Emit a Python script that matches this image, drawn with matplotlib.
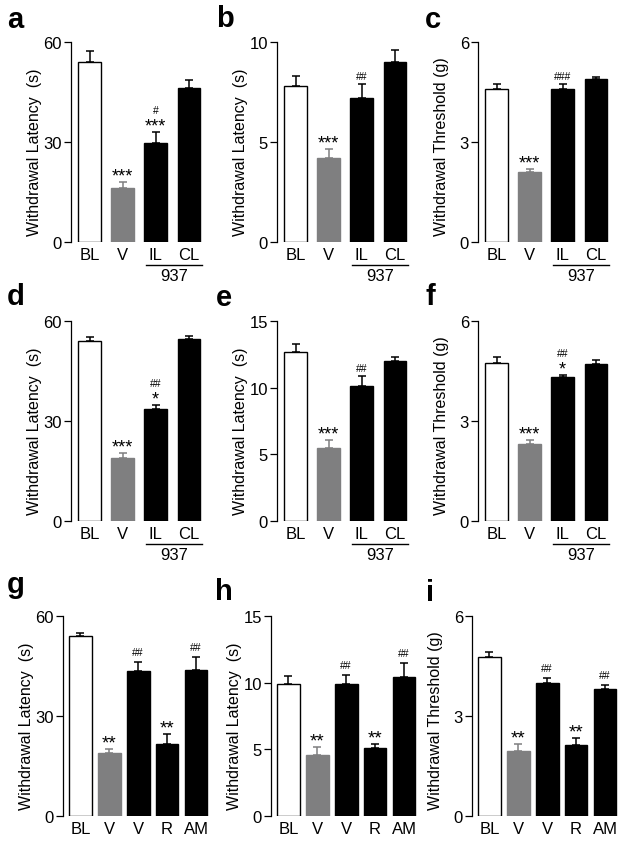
import matplotlib.pyplot as plt
import matplotlib.transforms as mtransforms

plt.rcParams['font.family'] = ['Liberation Sans', 'DejaVu Sans']

# categories
cats_937 = ['BL', 'V', 'IL', 'CL']
cats_ant = ['BL', 'V', 'V', 'R', 'AM']

# y ticks
ticks_60 = [0, 30, 60]
ticks_10 = [0, 5, 10]
ticks_15 = [0, 5, 10, 15]
ticks_6 = [0, 3, 6]

# values (mean, upper SEM)
a_mean = [54.0, 16.2, 29.7, 46.2]
a_err = [3.3, 1.8, 3.3, 2.4]
b_mean = [7.8, 4.2, 7.2, 9.0]
b_err = [0.5, 0.45, 0.7, 0.6]
c_mean = [4.58, 2.1, 4.6, 4.9]
c_err = [0.17, 0.09, 0.13, 0.06]
d_mean = [54.1, 19.0, 33.6, 54.5]
d_err = [1.0, 1.4, 1.3, 0.9]
e_mean = [12.7, 5.5, 10.1, 12.0]
e_err = [0.55, 0.6, 0.8, 0.27]
f_mean = [4.75, 2.3, 4.32, 4.71]
f_err = [0.16, 0.12, 0.07, 0.11]
g_mean = [54.0, 18.8, 43.6, 21.5, 43.8]
g_err = [1.0, 1.4, 2.7, 3.2, 3.8]
h_mean = [9.9, 4.55, 9.9, 5.1, 10.4]
h_err = [0.6, 0.6, 0.7, 0.3, 1.1]
i_mean = [4.76, 1.95, 3.99, 2.12, 3.82]
i_err = [0.16, 0.22, 0.15, 0.21, 0.10]

# significance marks: (bar index, stars, hashes)
marks_a = [(1, '***', ''), (2, '***', '#')]
marks_b = [(1, '***', ''), (2, '', '##')]
marks_c = [(1, '***', ''), (2, '', '###')]
marks_d = [(1, '***', ''), (2, '*', '##')]
marks_e = [(1, '***', ''), (2, '', '##')]
marks_f = [(1, '***', ''), (2, '*', '##')]
marks_ghi = [(1, '**', ''), (2, '', '##'), (3, '**', ''), (4, '', '##')]

lat = 'Withdrawal Latency  (s)'
thr = 'Withdrawal Threshold (g)'

GREY = '#7f7f80'
W, H = 624, 845
fig = plt.figure(figsize=(W / 100, H / 100), dpi=100)


def add_ax(left, top, width, height=200):
    return fig.add_axes([left / W, 1 - (top + height) / H, width / W, height / H])


def draw(ax, cats, means, errs, ticks, ylabel, marks, wide=False):
    n = len(cats)
    x = list(range(n))
    bw = 0.79 if wide else 0.68
    colors = ['white', GREY] + ['black'] * (n - 2)
    for xi, m, e, c in zip(x, means, errs, colors):
        ec = GREY if c == GREY else 'black'
        ax.bar(xi, m, width=bw, color=c, edgecolor=ec, linewidth=1.0, zorder=2)
        ax.errorbar(xi, m, yerr=[[0], [e]], color=ec, capsize=3.2,
                    elinewidth=1.1, capthick=1.1, zorder=3)
    for idx, stars, hashes in marks:
        top = means[idx] + errs[idx]
        if stars:
            ax.annotate(stars, (idx, top), xytext=(0, 1.2), textcoords='offset points',
                        ha='center', va='baseline', fontsize=13.5 if wide else 13)
        if hashes:
            off = 13.5 if stars else (5 if wide else 3.6)
            ax.annotate(hashes, (idx, top), xytext=(0, off), textcoords='offset points',
                        ha='center', va='baseline', fontsize=7.5)
    ax.set_ylim(0, ticks[-1])
    ax.set_yticks(ticks)
    ax.set_yticklabels([str(t) for t in ticks])
    if wide:
        ax.set_xlim(-0.6, 4.45)
    else:
        ax.set_xlim(-0.56, 3.4)
    ax.set_xticks(x)
    ax.set_xticklabels(cats)
    for s in ['top', 'right', 'bottom']:
        ax.spines[s].set_visible(False)
    ax.spines['left'].set_linewidth(0.9)
    ax.tick_params(axis='y', length=5, width=0.9, labelsize=12, pad=1.5)
    ax.tick_params(axis='x', length=0, labelsize=12, pad=3.5)
    ax.annotate(ylabel, (0, 0.035), xycoords='axes fraction', xytext=(-26, 0),
                textcoords='offset points', rotation=90, ha='center', va='bottom',
                fontsize=11.5)
    if not wide:
        tr = mtransforms.blended_transform_factory(ax.transData, ax.transAxes)
        ax.plot([1.72, 3.4], [-0.117, -0.117], color='black', lw=1.0,
                transform=tr, clip_on=False)
        ax.text(2.55, -0.13, '937', transform=tr, ha='center', va='top', fontsize=12)


panels = [
    ('a', 71, 43, 7, 28, cats_937, a_mean, a_err, ticks_60, lat, marks_a, False),
    ('b', 277, 43, 216, 27, cats_937, b_mean, b_err, ticks_10, lat, marks_b, False),
    ('c', 478, 43, 425, 28, cats_937, c_mean, c_err, ticks_6, thr, marks_c, False),
    ('d', 71, 322, 7, 305, cats_937, d_mean, d_err, ticks_60, lat, marks_d, False),
    ('e', 277, 322, 216, 306, cats_937, e_mean, e_err, ticks_15, lat, marks_e, False),
    ('f', 478, 322, 425, 305, cats_937, f_mean, f_err, ticks_6, thr, marks_f, False),
    ('g', 63, 617, 7, 593, cats_ant, g_mean, g_err, ticks_60, lat, marks_ghi, True),
    ('h', 271, 617, 215, 600, cats_ant, h_mean, h_err, ticks_15, lat, marks_ghi, True),
    ('i', 472, 617, 426, 601, cats_ant, i_mean, i_err, ticks_6, thr, marks_ghi, True),
]

for letter, left, top, lx, ly, cats, mean, err, ticks, ylab, marks, wide in panels:
    width = 146 if wide else 131
    ax = add_ax(left, top, width)
    draw(ax, cats, mean, err, ticks, ylab, marks, wide)
    fig.text(lx / W, 1 - ly / H, letter, fontsize=21, fontweight='bold',
             ha='left', va='baseline')

fig.savefig('out.png', dpi=100)
